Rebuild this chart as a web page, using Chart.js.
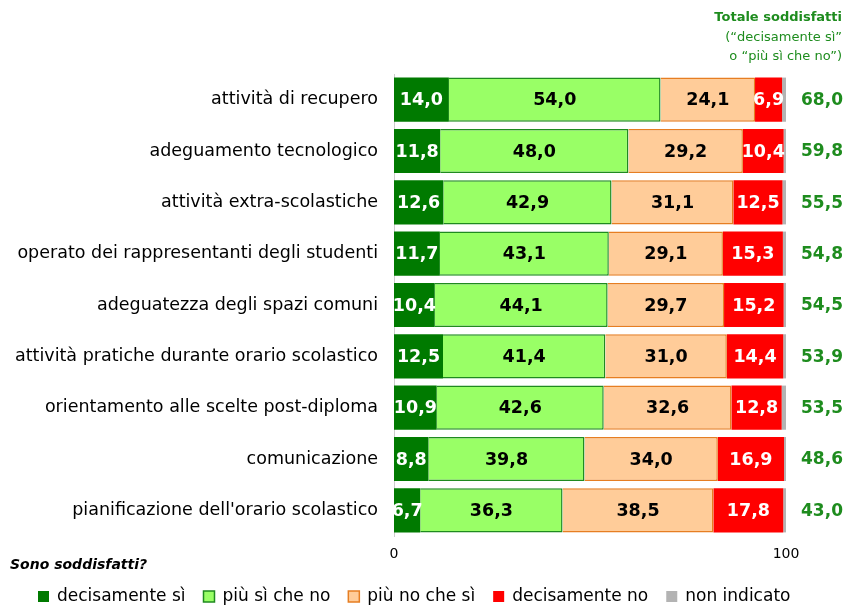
<!DOCTYPE html>
<html>
<head>
<meta charset="utf-8">
<script src="https://cdn.jsdelivr.net/npm/chart.js@4"></script>
<style>
  html, body { margin: 0; padding: 0; background: #fff; }
  #wrap { width: 845px; height: 605px; position: relative; }
</style>
</head>
<body>
<div id="wrap"><canvas id="chart"></canvas></div>
<script>
const categories = [
    'attività di recupero',
    'adeguamento tecnologico',
    'attività extra-scolastiche',
    'operato dei rappresentanti degli studenti',
    'adeguatezza degli spazi comuni',
    'attività pratiche durante orario scolastico',
    'orientamento alle scelte post-diploma',
    'comunicazione',
    "pianificazione dell'orario scolastico"
];
const decisamenteSi = [14.0, 11.8, 12.6, 11.7, 10.4, 12.5, 10.9, 8.8, 6.7];
const piuSiCheNo    = [54.0, 48.0, 42.9, 43.1, 44.1, 41.4, 42.6, 39.8, 36.3];
const piuNoCheSi    = [24.1, 29.2, 31.1, 29.1, 29.7, 31.0, 32.6, 34.0, 38.5];
const decisamenteNo = [6.9, 10.4, 12.5, 15.3, 15.2, 14.4, 12.8, 16.9, 17.8];
const nonIndicato   = [1.0, 0.6, 0.9, 0.8, 0.6, 0.7, 1.1, 0.5, 0.7];
const totali        = [68.0, 59.8, 55.5, 54.8, 54.5, 53.9, 53.5, 48.6, 43.0];
const xTicks = [0, 100];

const GREEN = '#1e8c1e';
const FONT = '"DejaVu Sans", Verdana, sans-serif';

function fmt(v) {
    return v.toFixed(1).replace('.', ',');
}

// values inside the bars, totals on the right, header, footer and legend
const textPlugin = {
    id: 'texts',
    afterDatasetsDraw(chart) {
        const ctx = chart.ctx;
        ctx.save();
        ctx.textBaseline = 'middle';
        ctx.textAlign = 'center';
        ctx.font = 'bold 17.5px ' + FONT;
        chart.data.datasets.forEach((ds, i) => {
            if (!ds.labelColor) return;
            chart.getDatasetMeta(i).data.forEach((bar, j) => {
                const x = (bar.x + bar.base) / 2;
                ctx.fillStyle = ds.labelColor;
                ctx.fillText(fmt(ds.data[j]), x, bar.y + 1);
            });
        });

        const yScale = chart.scales.y;
        ctx.fillStyle = GREEN;
        ctx.font = 'bold 17px ' + FONT;
        totali.forEach((t, j) => {
            ctx.fillText(fmt(t), 822, yScale.getPixelForValue(j) + 1);
        });

        ctx.textAlign = 'right';
        ctx.font = 'bold 13px ' + FONT;
        ctx.fillText('Totale soddisfatti', 842, 18);
        ctx.font = '13px ' + FONT;
        ctx.fillText('(\u201cdecisamente sì\u201d', 842, 38);
        ctx.fillText('o \u201cpiù sì che no\u201d)', 842, 57);

        ctx.textAlign = 'left';
        ctx.fillStyle = '#000';
        ctx.font = 'italic bold 14px ' + FONT;
        ctx.fillText('Sono soddisfatti?', 10, 565);

        // legend
        ctx.font = '17px ' + FONT;
        let x = 38;
        const y = 597;
        chart.data.datasets.forEach(ds => {
            ctx.fillStyle = ds.backgroundColor;
            ctx.fillRect(x, y - 6, 11, 11);
            if (ds.borderWidth) {
                ctx.strokeStyle = ds.borderColor;
                ctx.lineWidth = 1.5;
                ctx.strokeRect(x, y - 6, 11, 11);
            }
            ctx.fillStyle = '#000';
            ctx.fillText(ds.label, x + 19, y);
            x += 19 + ctx.measureText(ds.label).width + 18;
        });
        ctx.restore();
    }
};

const ctx = document.getElementById('chart').getContext('2d');
new Chart(ctx, {
    type: 'bar',
    data: {
        labels: categories,
        datasets: [
            { label: 'decisamente sì', data: decisamenteSi, backgroundColor: '#007a00', borderColor: '#007a00', borderWidth: 0, labelColor: '#fff' },
            { label: 'più sì che no', data: piuSiCheNo, backgroundColor: '#99ff66', borderColor: '#1f8a1f', borderWidth: 1.5, labelColor: '#000' },
            { label: 'più no che sì', data: piuNoCheSi, backgroundColor: '#ffcc99', borderColor: '#e67e22', borderWidth: 1.5, labelColor: '#000' },
            { label: 'decisamente no', data: decisamenteNo, backgroundColor: '#ff0000', borderColor: '#ff0000', borderWidth: 0, labelColor: '#fff' },
            { label: 'non indicato', data: nonIndicato, backgroundColor: '#b3b3b3', borderColor: '#b3b3b3', borderWidth: 0 }
        ]
    },
    options: {
        indexAxis: 'y',
        responsive: true,
        maintainAspectRatio: false,
        animation: false,
        barPercentage: 0.86,
        categoryPercentage: 1,
        layout: { padding: { top: 74, right: 59, left: 0, bottom: 39 } },
        scales: {
            x: {
                stacked: true,
                min: 0,
                max: 100,
                afterBuildTicks: scale => { scale.ticks = xTicks.map(v => ({ value: v })); },
                afterFit: scale => { scale.height = 30; },
                grid: { display: false },
                border: { display: false },
                ticks: { color: '#000', padding: 2, font: { size: 14, family: FONT } }
            },
            y: {
                stacked: true,
                afterFit: scale => { scale.width = 394; },
                grid: { display: false },
                border: { display: true, color: '#cccccc', width: 1 },
                ticks: { color: '#000', padding: 8, font: { size: 17.5, family: FONT } }
            }
        },
        plugins: {
            legend: { display: false },
            tooltip: { enabled: false }
        }
    },
    plugins: [textPlugin]
});
</script>
</body>
</html>
